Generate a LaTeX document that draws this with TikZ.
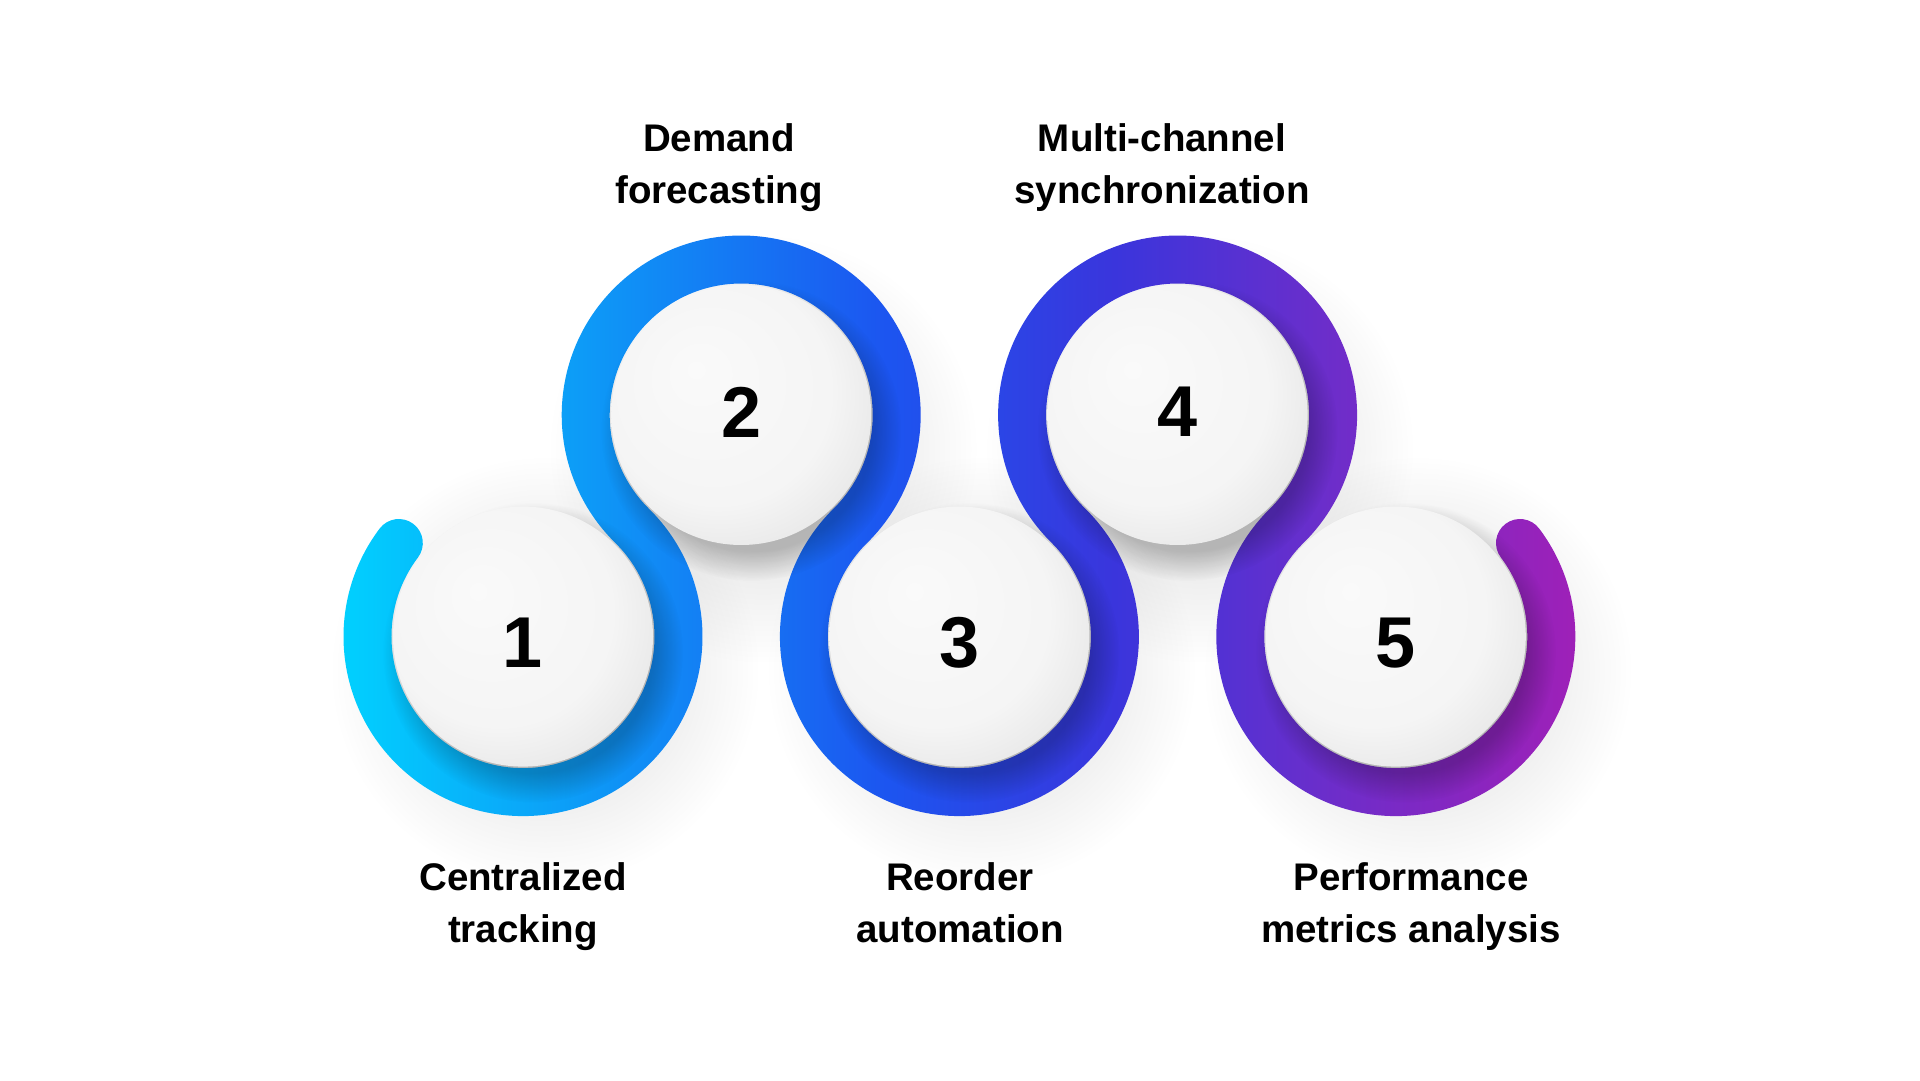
\documentclass[tikz,border=0pt]{standalone}
\usepackage{fontspec}
\setmainfont{Liberation Sans}
\usetikzlibrary{fadings}

\definecolor{ringA}{HTML}{00D4FF}
\definecolor{ringB}{HTML}{0D9BF7}
\definecolor{ringC}{HTML}{1C55F0}
\definecolor{ringD}{HTML}{3A35DC}
\definecolor{ringE}{HTML}{6A2ECB}
\definecolor{ringF}{HTML}{A31FB6}

\pgfdeclarehorizontalshading{ringgrad}{100bp}{color(0bp)=(ringA); color(25bp)=(ringA);
  color(35bp)=(ringB); color(47bp)=(ringC); color(56bp)=(ringD); color(64bp)=(ringE);
  color(75bp)=(ringF); color(100bp)=(ringF)}
\pgfdeclareradialshading{ballgrad}{\pgfpoint{-9bp}{9bp}}{color(0bp)=(white!98!black);
  color(22bp)=(white!96!black); color(29bp)=(white!92!black); color(33bp)=(white!86!black);
  color(37bp)=(white!74!black); color(45bp)=(white!70!black)}
\tikzfading[name=softshadow, inner color=transparent!0, outer color=transparent!100]

\begin{document}
\begin{tikzpicture}[x=1pt,y=1pt,
    lbl/.style={font=\fontsize{38.5}{52}\selectfont\bfseries, align=center, text=black, anchor=base},
    num/.style={font=\fontsize{72}{72}\selectfont\bfseries, text=black},
    ball/.style={circle, minimum size=260, inner sep=0, shading=ballgrad},
    farshadow/.style={fill=black, opacity=0.16, path fading=softshadow},
    nearshadow/.style={fill=black, opacity=0.22, path fading=circle with fuzzy edge 20 percent}]
  \useasboundingbox (0,0) rectangle (1920,1080);
  \fill[white] (0,0) rectangle (1920,1080);
  % centres of the five steps (number nudged up on top row, down on bottom row)
  \foreach \i/\x/\y/\d in {1/523/443.4/-6, 2/741.2/665/3, 3/959.4/443.4/-6, 4/1177.6/665/3, 5/1395.8/443.4/-6} {
    \coordinate (c\i) at (\x,\y);
    \coordinate (d\i) at (\x,\y+\d);
  }
  % soft shadow on the page
  \foreach \i in {1,...,5}
    \fill[farshadow] ([shift={(22,-34)}]c\i) circle[radius=215];
  % ribbon
  \shade[shading=ringgrad]
    ([shift={(143:131.5)}]c1) arc[start angle=143, end angle=405.44, radius=131.5]
    arc[start angle=225.44, end angle=-45.44, radius=179.5]
    arc[start angle=134.56, end angle=405.44, radius=131.5]
    arc[start angle=225.44, end angle=-45.44, radius=179.5]
    arc[start angle=134.56, end angle=397, radius=131.5]
    % end cap
    arc[start angle=217, end angle=37, radius=24]
    arc[start angle=397, end angle=134.56, radius=179.5]
    arc[start angle=-45.44, end angle=225.44, radius=131.5]
    arc[start angle=405.44, end angle=134.56, radius=179.5]
    arc[start angle=-45.44, end angle=225.44, radius=131.5]
    arc[start angle=405.44, end angle=143, radius=179.5]
    % start cap
    arc[start angle=143, end angle=-37, radius=24] -- cycle;
  % contact shadows
  \foreach \i in {1,...,5}
    \fill[nearshadow] ([shift={(10,-16)}]c\i) circle[radius=150];
  % balls
  \foreach \i in {1,...,5} {
    \node[ball] (b\i) at (c\i) {};
    \node[num] (n\i) at (d\i) {\i};
  }
  % labels
  \node[lbl] (t1) at (523,138) {Centralized\\tracking};
  \node[lbl] (t2) at (719,876) {Demand\\forecasting};
  \node[lbl] (t3) at (960,138) {Reorder\\automation};
  \node[lbl] (t4) at (1162,876) {Multi-channel\\synchronization};
  \node[lbl] (t5) at (1411,138) {Performance\\metrics analysis};
\end{tikzpicture}
\end{document}
